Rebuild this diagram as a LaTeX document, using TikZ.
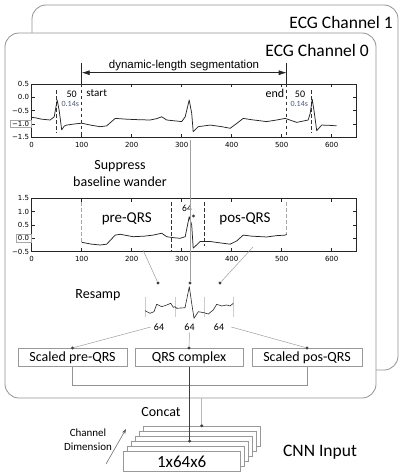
\documentclass[tikz,border=0pt]{standalone}
\usepackage{fontspec}
\setmainfont{Carlito}
\newfontfamily\tickfont{DejaVu Sans}
\newfontfamily\arialfont{Liberation Sans}
\usepackage{xcolor}
\usepackage{tikz}
\usetikzlibrary{arrows.meta, positioning}

\definecolor{noteblue}{RGB}{70,90,130}

\tikzset{
  panel/.style={draw=gray!85, line width=0.8pt, rounded corners=14pt, inner sep=0pt},
  chanlabel/.style={font=\fontsize{17.5}{20}\selectfont, inner sep=0pt, anchor=east},
  steplabel/.style={font=\fontsize{14}{17}\selectfont, align=center, inner sep=0pt},
  stagebox/.style={draw=gray!80, line width=0.6pt, fill=white, minimum height=18.5pt, inner sep=0pt, font=\fontsize{14}{16}\selectfont},
  stackbox/.style={draw=gray!80, line width=0.6pt, fill=white, minimum width=116.7pt, minimum height=20pt, inner sep=0pt},
  axisline/.style={black!85, line width=0.6pt},
  ticklabel/.style={font=\tickfont\fontsize{7}{8}\selectfont, inner sep=1pt},
  trace/.style={black!85, line width=0.75pt, line join=round},
  cut/.style={black!80, line width=0.9pt, dash pattern=on 3.5pt off 2.5pt},
  cutlight/.style={cut, gray!70},
  link/.style={gray!75, line width=0.5pt},
  dot/.style={circle, fill=black!75, inner sep=0pt, minimum size=3.2pt},
  smallnum/.style={font=\fontsize{10}{12}\selectfont, inner sep=0pt},
}

\begin{document}
\begin{tikzpicture}[x=1pt, y=-1pt]
\useasboundingbox (0,0) rectangle (406,476);
% Channel panels (back one first)
\node[panel, minimum width=366pt, minimum height=365pt] (panel1) at (215,187.5) {};
\node[chanlabel] (ch1) at (393,22) {ECG Channel 1};
\node[panel, fill=white, minimum width=371pt, minimum height=365pt] (panel0) at (190.5,215.5) {};
\node[chanlabel] (ch0) at (369,50) {ECG Channel 0};

% Raw ECG trace
\begin{scope}[shift={(31.7,97.3)}, x=0.5pt, y=26.7pt]
  \draw[axisline] (0,-1.5) rectangle (650,0.5);
  \foreach \u in {0,100,...,600} {
    \draw[axisline] (\u,-1.5) -- ++(0,0.13);
    \draw[axisline] (\u,0.5) -- ++(0,-0.13);
    \node[ticklabel, anchor=north] (rawx\u) at (\u,-1.64) {\u};
  }
  \foreach \v/\t [count=\i] in {0.5/0.5, 0/0.0, -0.5/−0.5, -1.5/−1.5} {
    \draw[axisline] (0,\v) -- ++(7,0);
    \draw[axisline] (650,\v) -- ++(-7,0);
    \node[ticklabel, anchor=east] (rawy\i) at (-3,\v) {\t};
  }
  \draw[axisline] (0,-1) -- ++(7,0);
  \draw[axisline] (650,-1) -- ++(-7,0);
  \node[ticklabel, anchor=east, draw=gray!70, inner xsep=2pt, inner ysep=1pt] (rawybox) at (-1,-1) {−1.0};
  \draw[cut] (50,0.27) -- (50,-1.34);
  \draw[cut] (100,0.5) -- (100,-1.5);
  \draw[cut] (510,0.5) -- (510,-1.5);
  \draw[cut] (560,0.27) -- (560,-1.34);
  \draw[trace] plot coordinates {(0,-0.75) (8,-0.77) (20,-0.82) (37,-0.85) (45,-0.73)
    (51,-0.1) (55,-0.5) (60,-1.22) (65,-1.08) (70,-1.04) (85,-1.0) (100,-0.97)
    (120,-1.05) (137,-1.1) (150,-1.07) (167,-0.79) (190,-0.82) (215,-0.84)
    (237,-0.85) (250,-0.8) (260,-0.73) (270,-0.85) (285,-0.88) (300,-0.91)
    (307,-0.73) (315,-0.1) (320,-0.6) (323,-1.29) (333,-1.1) (357,-1.04)
    (380,-1.1) (397,-1.16) (410,-0.98) (423,-0.79) (440,-0.84) (470,-0.91)
    (490,-0.85) (507,-0.79) (530,-0.94) (553,-0.85) (557,-0.6) (561,-0.07)
    (565,-0.55) (570,-1.25) (580,-1.04) (595,-1.05) (610,-1.07)};
\end{scope}
% Segmentation window
\draw[black!85, line width=0.6pt] (81.7,63) -- (81.7,84);
\draw[black!85, line width=0.6pt] (286.7,63) -- (286.7,84);
\coordinate (segStart) at (81.7,72.7);
\coordinate (segEnd) at (286.7,72.7);
\draw[black!85, line width=0.7pt, {Latex[length=8pt,width=5pt]}-{Latex[length=8pt,width=5pt]}] (segStart) -- (segEnd);
\node[font=\arialfont\fontsize{11.5}{13}\selectfont, inner sep=0pt] (segtext) at (184,65.5) {dynamic-length segmentation};
\node[smallnum] (preLen) at (71.7,94) {50};
\node[font=\fontsize{8}{9}\selectfont, text=noteblue, inner sep=0pt] (preSec) at (70.3,104) {0.14s};
\node[font=\fontsize{11}{12}\selectfont, inner sep=0pt] (startlbl) at (96.7,93.5) {start};
\node[font=\fontsize{12}{13}\selectfont, inner sep=0pt] (endlbl) at (275,93.5) {end};
\node[smallnum] (postLen) at (300,94) {50};
\node[font=\fontsize{8}{9}\selectfont, text=noteblue, inner sep=0pt] (postSec) at (299.3,104) {0.14s};

\node[steplabel] (suppress) at (120,173.5) {Suppress\\baseline wander};

% Filtered trace with QRS cut
\begin{scope}[shift={(31.7,238.3)}, x=0.5pt, y=26.7pt]
  \draw[axisline] (0,-0.5) rectangle (650,1.5);
  \foreach \u in {0,100,...,600} {
    \draw[axisline] (\u,-0.5) -- ++(0,0.13);
    \draw[axisline] (\u,1.5) -- ++(0,-0.13);
    \node[ticklabel, anchor=north] (flatx\u) at (\u,-0.64) {\u};
  }
  \foreach \v/\t [count=\i] in {1.5/1.5, 1/1.0, 0.5/0.5, -0.5/−0.5} {
    \draw[axisline] (0,\v) -- ++(7,0);
    \draw[axisline] (650,\v) -- ++(-7,0);
    \node[ticklabel, anchor=east] (flaty\i) at (-3,\v) {\t};
  }
  \draw[axisline] (0,0) -- ++(7,0);
  \draw[axisline] (650,0) -- ++(-7,0);
  \node[ticklabel, anchor=east, draw=gray!70, inner xsep=2pt, inner ysep=1pt] (flatybox) at (-1,0) {0.0};
  \draw[cutlight] (100,1.35) -- (100,-0.15);
  \draw[cut] (280,1.35) -- (280,-0.5);
  \draw[cut] (345,1.35) -- (345,-0.3);
  \draw[cutlight] (510,1.35) -- (510,0.15);
  \draw[trace] plot coordinates {(100,-0.15) (120,-0.22) (137,-0.25) (150,-0.22)
    (167,0.12) (177,0.15) (203,0.06) (225,0.08) (243,0.12) (260,0.19) (270,0.06)
    (285,0.02) (297,0.0) (307,0.06) (315,0.81) (320,0.5) (323,-0.37) (337,-0.12)
    (357,-0.12) (380,-0.18) (397,-0.22) (410,-0.1) (423,0.12) (440,0.08)
    (470,0.05) (490,0.1) (507,0.12) (510,0.15)};
\end{scope}
\node[font=\fontsize{15}{17}\selectfont, inner sep=0pt] (preQRS) at (126.7,218.5) {pre-QRS};
\node[font=\fontsize{15}{17}\selectfont, inner sep=0pt] (posQRS) at (245,218.5) {pos-QRS};
\node[font=\fontsize{9.5}{11}\selectfont, inner sep=0pt] (qrsLen) at (187,208) {64};
\node[dot] (qrsMark) at (193.5,216) {};

% Resampling
\coordinate (preTap) at (143,250);
\coordinate (posTap) at (253,247);
\coordinate (qrsTap) at (190,140);
\node[dot] (rsPre) at (158,283) {};
\node[dot] (rsQrs) at (190,283) {};
\node[dot] (rsPos) at (220,283) {};
\draw[link] (preTap) -- (rsPre);
\draw[link] (posTap) -- (rsPos);
\draw[link] (qrsTap) -- (rsQrs);
\node[steplabel] (resamp) at (98,295) {Resamp};
\foreach \sx in {145,175,204,233.3}
  \draw[gray!40, line width=0.5pt] (\sx,296.7) -- (\sx,316.7);
\draw[trace, line width=0.6pt] plot coordinates {(145,310.7) (150,313.3) (154,311.7)
  (156.7,304.3) (161.7,306.7) (166.7,305) (170.7,303.3) (173.3,307.3) (175,306.7)
  (176.7,308.3) (185,307.7) (187.3,296.7) (189.3,286.7) (191.7,303.3) (194,318.3)
  (198.3,311.7) (204,312.7) (208.3,314) (213.3,310) (216.7,304.3) (221.7,306)
  (226.7,305) (230,306) (233.3,303.3)};
\node[smallnum] (n64a) at (159,327) {64};
\node[smallnum] (n64b) at (189.5,327) {64};
\node[smallnum] (n64c) at (219,327) {64};

% Scaled segments
\node[stagebox, minimum width=109pt] (spre) at (72.5,357.5) {Scaled pre-QRS};
\node[stagebox, minimum width=108pt] (qrs) at (189,357.5) {QRS complex};
\node[stagebox, minimum width=110pt] (spos) at (307,357.5) {Scaled pos-QRS};
\node[dot] (dpre) at (spre.north) {};
\node[dot] (dqrs) at (qrs.north) {};
\node[dot] (dpos) at (spos.north) {};
\draw[link] ([xshift=-3pt]n64a.west) -- (dpre);
\draw[link] ([yshift=-2pt]n64b.south) -- (dqrs);
\draw[link] ([xshift=7pt]n64c.east) -- (dpos);
\draw[link, gray!85] (spre.south) -- ++(0,18) -| (spos.south);

% Concatenated CNN input
\foreach \k in {5,4,3,2,1}
  \node[stackbox] (stk\k) at (181.7+4*\k, 461.7-5.13*\k) {};
\node[stackbox, font=\fontsize{17}{19}\selectfont] (stk0) at (181.7,461.7) {1x64x6};
\node[dot] (catA) at (stk5.north) {};
\node[dot] (catB) at (stk2.north) {};
\draw[gray!55, line width=0.8pt] (stk5.north |- panel0.south) -- (catA);
\draw[black!75, line width=0.6pt] (qrs.south) -- (qrs.south |- catB);
\node[steplabel] (concat) at (161,412) {Concat};
\node[font=\fontsize{17.5}{20}\selectfont, inner sep=0pt] (cnnIn) at (320,452) {CNN Input};
\node[font=\fontsize{11}{14}\selectfont, align=center, inner sep=0pt] (chanDim) at (88,440) {Channel\\Dimension};
\coordinate (dimTail) at (106,464);
\coordinate (dimHead) at (126,429);
\draw[gray!70!black, line width=0.5pt, -{Stealth[length=5pt,width=3.5pt]}] (dimTail) -- (dimHead);
\end{tikzpicture}
\end{document}
